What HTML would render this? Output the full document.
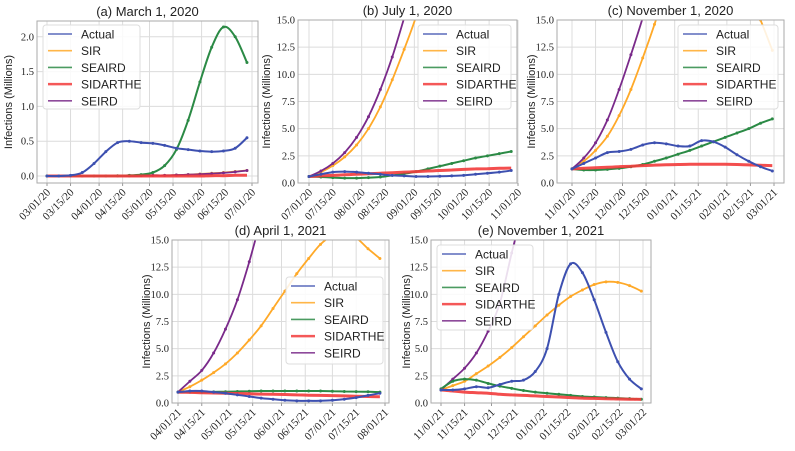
<!DOCTYPE html>
<html><head><meta charset="utf-8"><style>
body{margin:0;background:#fff}
svg{display:block}
text{fill:#222}
</style></head><body>
<svg id="chart" width="795" height="451" xmlns="http://www.w3.org/2000/svg"></svg>
<script>
// sample days (every 7 days)
const days = [0,7,14,21,28,35,42,49,56,63,70,77,84,91,98,105,112,119];
const seriesNames = ["Actual","SIR","SEAIRD","SIDARTHE","SEIRD"];
// Panel (a) March 1, 2020
const aActual = [0,0,0.01,0.05,0.18,0.35,0.48,0.5,0.48,0.47,0.44,0.4,0.38,0.36,0.35,0.36,0.4,0.55];
const aSIR = [0,0,0,0,0,0,0,0,0.005,0.01,0.01,0.015,0.02,0.03,0.04,0.05,0.065,0.08];
const aSEAIRD = [0,0,0,0,0,0,0.005,0.01,0.02,0.05,0.15,0.38,0.8,1.35,1.85,2.14,2.0,1.63];
const aSIDARTHE = [0,0,0,0,0,0,0,0,0,0,0,0,0,0,0.005,0.005,0.01,0.01];
const aSEIRD = [0,0,0,0,0,0,0,0,0.005,0.01,0.01,0.015,0.02,0.025,0.035,0.045,0.06,0.08];
// Panel (b) July 1, 2020
const bActual = [0.6,0.8,1.0,1.05,1.0,0.9,0.8,0.7,0.65,0.6,0.6,0.62,0.65,0.7,0.8,0.9,1.0,1.15];
const bSIR = [0.6,1.0,1.6,2.4,3.5,5.0,7.0,9.5,12.3,15.3,19,23,27,31,35,39,43,47];
const bSEAIRD = [0.6,0.55,0.5,0.45,0.45,0.5,0.55,0.7,0.85,1.05,1.3,1.55,1.8,2.05,2.3,2.5,2.7,2.9];
const bSIDARTHE = [0.6,0.65,0.7,0.75,0.8,0.85,0.9,0.95,1.0,1.05,1.1,1.15,1.2,1.25,1.3,1.32,1.35,1.37];
const bSEIRD = [0.6,1.1,1.8,2.8,4.2,6.1,8.6,11.6,15.2,19,23,27,31,35,39,43,47,51];
// Panel (c) November 1, 2020
const cActual = [1.3,1.8,2.3,2.8,2.9,3.1,3.5,3.7,3.6,3.4,3.4,3.9,3.8,3.3,2.6,2.0,1.5,1.1];
const cSIR = [1.3,2.0,3.0,4.3,6.2,8.6,11.5,14.6,18,22,25,27,27,25,21,17.5,15,12.2];
const cSEAIRD = [1.3,1.2,1.2,1.25,1.35,1.5,1.7,2.0,2.3,2.65,3.0,3.4,3.8,4.2,4.6,5.0,5.5,5.9];
const cSIDARTHE = [1.3,1.35,1.4,1.45,1.5,1.55,1.6,1.65,1.68,1.7,1.72,1.73,1.73,1.72,1.7,1.67,1.63,1.6];
const cSEIRD = [1.3,2.3,3.7,5.8,8.6,11.8,15.2,19,23,27,31,35,39,43,47,51,55,59];
// Panel (d) April 1, 2021
const dActual = [1.0,1.1,1.1,1.0,0.9,0.75,0.6,0.45,0.35,0.25,0.2,0.2,0.2,0.25,0.35,0.5,0.7,0.9];
const dSIR = [1.0,1.5,2.1,2.8,3.6,4.6,5.8,7.1,8.7,10.3,11.9,13.3,14.6,15.4,15.6,15.2,14.2,13.3];
const dSEAIRD = [1.0,1.0,1.0,1.02,1.04,1.06,1.08,1.1,1.1,1.1,1.1,1.1,1.1,1.08,1.06,1.05,1.03,1.0];
const dSIDARTHE = [1.0,0.98,0.95,0.92,0.9,0.87,0.85,0.82,0.8,0.78,0.75,0.72,0.7,0.68,0.65,0.62,0.6,0.58];
const dSEIRD = [1.0,2.0,3.0,4.6,6.8,9.5,13.0,17,21,25,29,33,37,41,45,49,53,57];
// Panel (e) November 1, 2021
const eActual = [1.2,1.2,1.3,1.5,1.4,1.7,2.0,2.1,2.9,5.0,10.0,12.8,12.0,9.5,6.5,3.8,2.2,1.3];
const eSIR = [1.2,1.6,2.0,2.7,3.4,4.2,5.1,6.1,7.1,8.1,9.0,9.8,10.4,10.9,11.15,11.1,10.8,10.3];
const eSEAIRD = [1.3,2.0,2.2,2.1,1.8,1.55,1.35,1.15,1.0,0.9,0.8,0.7,0.6,0.55,0.5,0.45,0.4,0.35];
const eSIDARTHE = [1.2,1.1,1.0,0.95,0.9,0.8,0.75,0.7,0.65,0.6,0.55,0.5,0.45,0.42,0.4,0.37,0.35,0.33];
const eSEIRD = [1.2,2.2,3.2,4.6,6.6,9.2,13.8,18,22,26,30,34,38,42,46,50,54,58];
// tick labels
const aTickLabels = ["03/01/20","03/15/20","04/01/20","04/15/20","05/01/20","05/15/20","06/01/20","06/15/20","07/01/20"];
const aTickDays = [0,14,31,45,61,75,92,106,122];
const bTickLabels = ["07/01/20","07/15/20","08/01/20","08/15/20","09/01/20","09/15/20","10/01/20","10/15/20","11/01/20"];
const bTickDays = [0,14,31,45,62,76,92,106,123];
const cTickLabels = ["11/01/20","11/15/20","12/01/20","12/15/20","01/01/21","01/15/21","02/01/21","02/15/21","03/01/21"];
const cTickDays = [0,14,30,44,61,75,92,106,120];
const dTickLabels = ["04/01/21","04/15/21","05/01/21","05/15/21","06/01/21","06/15/21","07/01/21","07/15/21","08/01/21"];
const dTickDays = [0,14,30,44,61,75,91,105,122];
const eTickLabels = ["11/01/21","11/15/21","12/01/21","12/15/21","01/01/22","01/15/22","02/01/22","02/15/22","03/01/22"];
const eTickDays = [0,14,30,44,61,75,92,106,120];
const aYTicks = [0,0.5,1.0,1.5,2.0];
const bigYTicks = [0,2.5,5,7.5,10,12.5,15];

const NS = "http://www.w3.org/2000/svg";
const svg = document.getElementById("chart");
const colors = {Actual:"#3d50b0",SIR:"#ffa928",SEAIRD:"#2b8a45",SIDARTHE:"#f23b3b",SEIRD:"#7a2a8a"};
const widths = {Actual:2,SIR:1.8,SEAIRD:2,SIDARTHE:3,SEIRD:1.8};
function el(tag, attrs, parent){const e=document.createElementNS(NS,tag);for(const k in attrs)e.setAttribute(k,attrs[k]);(parent||svg).appendChild(e);return e;}
function smoothPath(P){
  let d="M"+P[0][0].toFixed(1)+","+P[0][1].toFixed(1);
  for(let i=0;i<P.length-1;i++){
    const p0=P[i-1]||P[i],p1=P[i],p2=P[i+1],p3=P[i+2]||P[i+1];
    const c1=[p1[0]+(p2[0]-p0[0])/6,p1[1]+(p2[1]-p0[1])/6];
    const c2=[p2[0]-(p3[0]-p1[0])/6,p2[1]-(p3[1]-p1[1])/6];
    d+=` C${c1[0].toFixed(1)},${c1[1].toFixed(1)} ${c2[0].toFixed(1)},${c2[1].toFixed(1)} ${p2[0].toFixed(1)},${p2[1].toFixed(1)}`;
  }
  return d;
}

const panels = [
 {id:"a",title:"(a) March 1, 2020",L:37,R:258,T:21,B:183,x0:47,x1:252,d1:122,ymin:-0.1,ymax:2.227,yticks:aYTicks,ticks:aTickDays,labels:aTickLabels,data:[aActual,aSIR,aSEAIRD,aSIDARTHE,aSEIRD],leg:[43,25,97,84],ylab:12},
 {id:"b",title:"(b) July 1, 2020",L:298,R:517,T:20,B:183,x0:309,x1:518,d1:123,ymin:0,ymax:15,yticks:bigYTicks,ticks:bTickDays,labels:bTickLabels,data:[bActual,bSIR,bSEAIRD,bSIDARTHE,bSEIRD],leg:[418,25,93,84],ylab:270},
 {id:"c",title:"(c) November 1, 2020",L:557,R:784,T:20,B:183,x0:572,x1:774,d1:120,ymin:0,ymax:15,yticks:bigYTicks,ticks:cTickDays,labels:cTickLabels,data:[cActual,cSIR,cSEAIRD,cSIDARTHE,cSEIRD],leg:[678,25,100,84],ylab:535},
 {id:"d",title:"(d) April 1, 2021",L:172,R:389,T:240,B:403,x0:178,x1:385,d1:122,ymin:0,ymax:15,yticks:bigYTicks,ticks:dTickDays,labels:dTickLabels,data:[dActual,dSIR,dSEAIRD,dSIDARTHE,dSEIRD],leg:[286,277,97,87],ylab:150},
 {id:"e",title:"(e) November 1, 2021",L:431,R:651,T:240,B:403,x0:441,x1:643,d1:120,ymin:0,ymax:15,yticks:bigYTicks,ticks:eTickDays,labels:eTickLabels,data:[eActual,eSIR,eSEAIRD,eSIDARTHE,eSEIRD],leg:[437,245,96,85],ylab:410}
];

panels.forEach(p=>{
  const g = el("g",{});
  
  
  const xs = d=>p.x0+(p.x1-p.x0)*d/p.d1;
  const ys = v=>p.B-(v-p.ymin)/(p.ymax-p.ymin)*(p.B-p.T);
  const clip = el("clipPath",{id:"clip-"+p.id},g);
  el("rect",{x:p.L,y:p.T,width:p.R-p.L,height:p.B-p.T},clip);
  el("rect",{x:p.L,y:p.T,width:p.R-p.L,height:p.B-p.T,fill:"#fff"},g);
  p.ticks.forEach((d,i)=>{
    const x=xs(d);
    const gl=el("line",{x1:x,x2:x,y1:p.T,y2:p.B,stroke:"#dcdcdc","stroke-width":1},g);
    
    
    el("line",{x1:x,x2:x,y1:p.B,y2:p.B+3,stroke:"#999"},g);
    const tx=x+4, ty=p.B+10;
    const t=el("text",{x:tx,y:ty,"font-family":"Liberation Serif, serif","font-size":"11","text-anchor":"end",fill:"#444",transform:`rotate(-45 ${tx} ${ty})`},g);
    t.textContent=p.labels[i];
    
    
  });
  p.yticks.forEach(v=>{
    const y=ys(v);
    const gl=el("line",{x1:p.L,x2:p.R,y1:y,y2:y,stroke:"#dcdcdc","stroke-width":1},g);
    
    
    const t=el("text",{x:p.L-3,y:y+3.5,"font-family":"Liberation Serif, serif","font-size":"10.5","text-anchor":"end",fill:"#555"},g);
    t.textContent=v.toFixed(1);
    
    
  });
  const sg = el("g",{"clip-path":`url(#clip-${p.id})`},g);
  const order=[1,4,2,3,0];
  order.forEach(si=>{
    const name=seriesNames[si], vals=p.data[si];
    const P=vals.map((v,i)=>[xs(days[i]),ys(v)]);
    const line=el("path",{d:smoothPath(P),fill:"none",stroke:colors[name],"stroke-width":widths[name],"stroke-linejoin":"round","stroke-opacity":name==="SIDARTHE"?0.9:1},sg);
    
    
    if(name!=="SIDARTHE"){
      vals.forEach((v,i)=>{
        const c=el("circle",{cx:xs(days[i]),cy:ys(v),r:1.5,fill:colors[name]},sg);
        
        
      });
    }
  });
  el("rect",{x:p.L,y:p.T,width:p.R-p.L,height:p.B-p.T,fill:"none",stroke:"#aaa","stroke-width":1},g);
  const tt=el("text",{x:(p.L+p.R)/2,y:p.T-5,"font-family":"Liberation Sans, sans-serif","font-size":"13","text-anchor":"middle"},g);
  tt.textContent=p.title;
  
  
  const yc=(p.T+p.B)/2;
  const yl=el("text",{x:p.ylab,y:yc,"font-family":"Liberation Sans, sans-serif","font-size":"11","text-anchor":"middle",transform:`rotate(-90 ${p.ylab} ${yc})`},g);
  yl.textContent="Infections (Millions)";
  
  
  const [lx,ly,lw,lh]=p.leg;
  const lg=el("g",{},g);
  
  
  el("rect",{x:lx,y:ly,width:lw,height:lh,rx:3,fill:"#fff","fill-opacity":0.85,stroke:"#ddd"},lg);
  seriesNames.forEach((n,i)=>{
    const yy=ly+9+i*16.7;
    const ln=el("line",{x1:lx+5,x2:lx+29,y1:yy,y2:yy,stroke:colors[n],"stroke-width":n==="SIDARTHE"?2.5:1.6,"stroke-opacity":0.85},lg);
    
    
    const t=el("text",{x:lx+38,y:yy+4.5,"font-family":"Liberation Sans, sans-serif","font-size":"12"},lg);
    t.textContent=n;
    
    
  });
});
</script>
</body></html>
